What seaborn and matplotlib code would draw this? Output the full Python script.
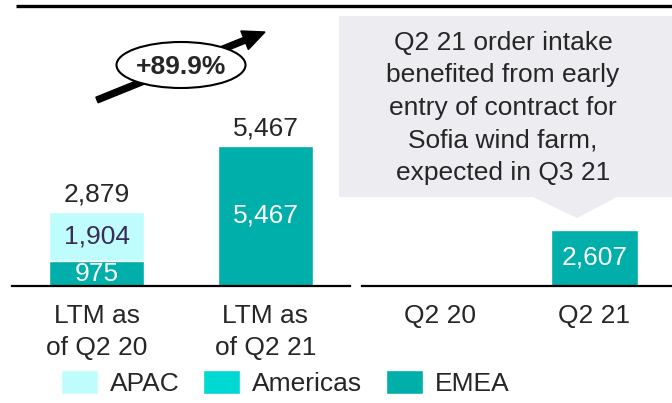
import matplotlib
matplotlib.use("Agg")
import matplotlib.pyplot as plt
from matplotlib.patches import Ellipse, Polygon, Patch, FancyArrow
import seaborn as sns

# LTM panel (stacked by region)
ltm_labels = ["LTM as\nof Q2 20", "LTM as\nof Q2 21"]
ltm_emea = [975, 5467]
ltm_americas = [0, 0]
ltm_apac = [1904, 0]

# quarterly panel
qtr_labels = ["Q2 20", "Q2 21"]
qtr_emea = [0, 2607]
qtr_americas = [0, 0]
qtr_apac = [0, 0]

region_names = ["APAC", "Americas", "EMEA"]
growth_label = "+89.9%"
note_text = ("Q2 21 order intake\nbenefited from early\nentry of contract for\n"
             "Sofia wind farm,\nexpected in Q3 21")

APAC_COLOR = "#BFFDFD"
AMERICAS_COLOR = "#00D8D3"
EMEA_COLOR = "#00AFAA"
APAC_TEXT = "#3A2B58"
FS = 19

W, H = 672, 403

sns.set_style("white")
plt.rcParams["font.family"] = ["Liberation Sans", "DejaVu Sans"]


def px_rect(x0, y0, x1, y1):
    """Pixel box (top-left origin) -> figure fraction rect."""
    return [x0 / W, 1 - y1 / H, (x1 - x0) / W, (y1 - y0) / H]


def stacked_panel(ax, labels, emea, americas, apac, ymax, show_totals):
    low = list(emea)
    mid = [e + a for e, a in zip(emea, americas)]
    top = [m + p for m, p in zip(mid, apac)]
    for vals, color in [(top, APAC_COLOR), (mid, AMERICAS_COLOR), (low, EMEA_COLOR)]:
        sns.barplot(x=labels, y=vals, color=color, width=0.56, errorbar=None,
                    saturation=1, ax=ax)

    for i in range(len(labels)):
        if emea[i] > 0:
            ax.text(i, emea[i] / 2, f"{emea[i]:,}", ha="center", va="center",
                    color="white", fontsize=FS)
        if apac[i] > 0:
            ax.text(i, mid[i] + apac[i] / 2, f"{apac[i]:,}", ha="center",
                    va="center", color=APAC_TEXT, fontsize=FS)
        if show_totals and top[i] > 0:
            ax.annotate(f"{top[i]:,}", (i, top[i]), xytext=(0, 4),
                        textcoords="offset points", ha="center", va="bottom",
                        fontsize=FS)

    ax.set_xlim(-0.5, len(labels) - 0.5)
    ax.set_ylim(0, ymax)
    ax.set_yticks([])
    ax.set_xlabel("")
    ax.set_ylabel("")
    for side in ["left", "right", "top"]:
        ax.spines[side].set_visible(False)
    ax.spines["bottom"].set_color("black")
    ax.spines["bottom"].set_linewidth(1.6)
    ax.tick_params(axis="x", length=0, pad=13, labelsize=FS)
    for lbl in ax.get_xticklabels():
        lbl.set_linespacing(1.4)
    ax.patch.set_alpha(0)


fig = plt.figure(figsize=(W / 100, H / 100), dpi=100)

ax_ltm = fig.add_axes(px_rect(12, 6, 350, 286))
stacked_panel(ax_ltm, ltm_labels, ltm_emea, ltm_americas, ltm_apac, 10934, True)

ax_qtr = fig.add_axes(px_rect(362, 6, W, 286))
stacked_panel(ax_qtr, qtr_labels, qtr_emea, qtr_americas, qtr_apac, 13035, False)

# overlay for decorations, 1 unit = 1 pixel
ov = fig.add_axes([0, 0, 1, 1])
ov.set_xlim(0, W)
ov.set_ylim(H, 0)
ov.axis("off")

ov.plot([16, W], [6, 6], color="black", lw=2.4, solid_capstyle="butt")

ov.add_patch(Polygon([(339, 16), (W, 16), (W, 197), (617, 197), (577, 218),
                      (533, 197), (339, 197)], closed=True, fc="#EDEDF1", ec="none"))
ov.text(503, 108, note_text, ha="center", va="center", fontsize=FS, linespacing=1.46)

ov.add_patch(FancyArrow(97, 100, 168, -68, width=6, head_width=20, head_length=22,
                        length_includes_head=True, color="black"))
ov.add_patch(Ellipse((181, 65), 129, 46, fc="white", ec="black", lw=1.5, zorder=3))
ov.text(181, 67, growth_label, ha="center", va="center", fontsize=FS,
        fontweight="bold", zorder=4)

handles = [Patch(fc=c, label=n) for c, n in
           zip([APAC_COLOR, AMERICAS_COLOR, EMEA_COLOR], region_names)]
fig.legend(handles=handles, ncol=3, loc="center left",
           bbox_to_anchor=(61 / W, 1 - 383 / H), frameon=False, fontsize=FS,
           handlelength=1.4, handleheight=1.0, handletextpad=0.45,
           columnspacing=0.9, borderpad=0, borderaxespad=0)

fig.savefig("out.png", dpi=100, facecolor="white")
